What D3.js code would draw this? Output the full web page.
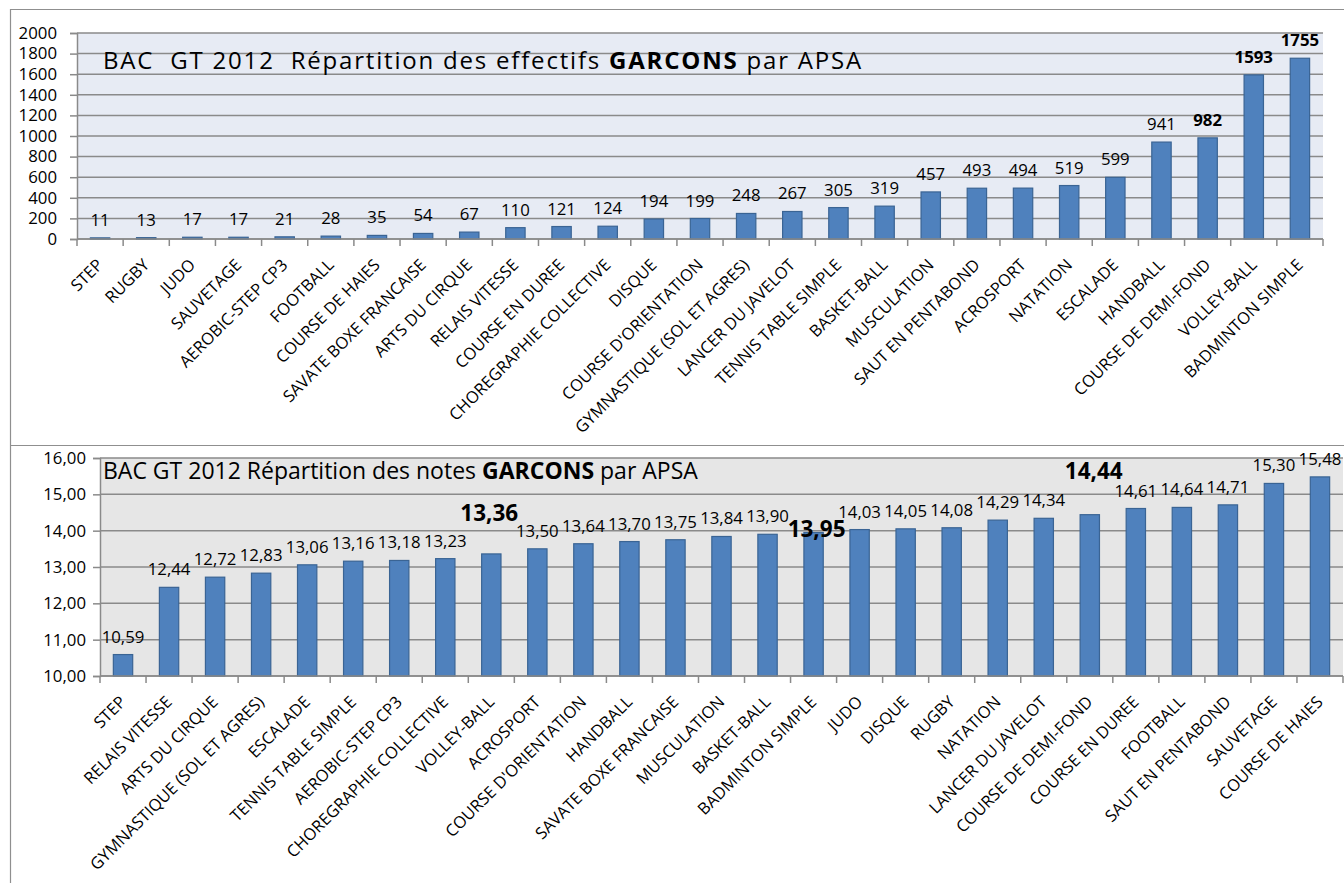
<!DOCTYPE html>
<html>
<head>
<meta charset="utf-8">
<script src="https://cdn.jsdelivr.net/npm/d3@7"></script>
<style>
  html, body { margin: 0; padding: 0; background: #fff; }
  svg { display: block; font-family: "Open Sans", sans-serif; }
  .title { white-space: pre; }
</style>
</head>
<body>
<svg id="chart"></svg>
<script>
// effectifs garcons par APSA
const apsaEffectifs = ["STEP", "RUGBY", "JUDO", "SAUVETAGE", "AEROBIC-STEP CP3", "FOOTBALL",
  "COURSE DE HAIES", "SAVATE BOXE FRANCAISE", "ARTS DU CIRQUE", "RELAIS VITESSE", "COURSE EN DUREE",
  "CHOREGRAPHIE COLLECTIVE", "DISQUE", "COURSE D'ORIENTATION", "GYMNASTIQUE (SOL ET AGRES)",
  "LANCER DU JAVELOT", "TENNIS TABLE SIMPLE", "BASKET-BALL", "MUSCULATION", "SAUT EN PENTABOND",
  "ACROSPORT", "NATATION", "ESCALADE", "HANDBALL", "COURSE DE DEMI-FOND", "VOLLEY-BALL",
  "BADMINTON SIMPLE"];
const effectifs = [11, 13, 17, 17, 21, 28, 35, 54, 67, 110, 121, 124, 194, 199, 248, 267, 305, 319,
  457, 493, 494, 519, 599, 941, 982, 1593, 1755];
const effectifsTicks = [0, 200, 400, 600, 800, 1000, 1200, 1400, 1600, 1800, 2000];

// notes moyennes garcons par APSA
const apsaNotes = ["STEP", "RELAIS VITESSE", "ARTS DU CIRQUE", "GYMNASTIQUE (SOL ET AGRES)", "ESCALADE",
  "TENNIS TABLE SIMPLE", "AEROBIC-STEP CP3", "CHOREGRAPHIE COLLECTIVE", "VOLLEY-BALL", "ACROSPORT",
  "COURSE D'ORIENTATION", "HANDBALL", "SAVATE BOXE FRANCAISE", "MUSCULATION", "BASKET-BALL",
  "BADMINTON SIMPLE", "JUDO", "DISQUE", "RUGBY", "NATATION", "LANCER DU JAVELOT",
  "COURSE DE DEMI-FOND", "COURSE EN DUREE", "FOOTBALL", "SAUT EN PENTABOND", "SAUVETAGE",
  "COURSE DE HAIES"];
const notes = [10.59, 12.44, 12.72, 12.83, 13.06, 13.16, 13.18, 13.23, 13.36, 13.50, 13.64, 13.70,
  13.75, 13.84, 13.90, 13.95, 14.03, 14.05, 14.08, 14.29, 14.34, 14.44, 14.61, 14.64, 14.71, 15.30,
  15.48];
const notesTicks = [10, 11, 12, 13, 14, 15, 16];

// APSA mises en avant (labels en gras)
const highlighted = ["COURSE DE DEMI-FOND", "VOLLEY-BALL", "BADMINTON SIMPLE"];

const width = 1344, height = 883;
const frFormat = d3.formatLocale({decimal: ",", thousands: " ", grouping: [3], currency: ["", " €"]});

const svg = d3.select("#chart")
  .attr("width", width)
  .attr("height", height);

// cadres
svg.append("path")
  .attr("d", `M10.5,${height} V9.5 H${width} M10.5,445.5 H${width}`)
  .attr("fill", "none")
  .attr("stroke", "#8f8f8f")
  .attr("stroke-width", 1.2);

function barPanel(cfg) {
  const g = svg.append("g");
  const p = cfg.plot;

  const x = d3.scaleBand().domain(cfg.cats).range([p.x0, p.x1]);
  const y = d3.scaleLinear().domain(cfg.domain).range([p.y1, p.y0]);
  const bw = x.bandwidth() * 0.42;

  g.append("rect")
    .attr("x", p.x0).attr("y", p.y0)
    .attr("width", p.x1 - p.x0).attr("height", p.y1 - p.y0)
    .attr("fill", cfg.bg);

  // grille + axe vertical
  const yAxis = g.append("g")
    .attr("transform", `translate(${p.x0},0)`)
    .call(d3.axisLeft(y).tickValues(cfg.ticks).tickSize(7).tickPadding(cfg.tickPad).tickFormat(cfg.tickFormat));
  yAxis.select(".domain").attr("stroke", "#8a8a8a").attr("stroke-width", 1.5);
  yAxis.selectAll(".tick line").attr("stroke", "#8a8a8a").attr("stroke-width", 1.5);
  yAxis.selectAll(".tick text")
    .attr("fill", "#000").style("font-size", "16.8px").style("font-family", "'Open Sans'");

  g.append("g")
    .selectAll("line")
    .data(cfg.ticks)
    .join("line")
    .attr("x1", p.x0).attr("x2", p.x1)
    .attr("y1", d => y(d)).attr("y2", d => y(d))
    .attr("stroke", "#8a8a8a")
    .attr("stroke-width", 1.5);

  // titre
  const title = g.append("text")
    .attr("class", "title")
    .attr("x", cfg.titlePos[0]).attr("y", cfg.titlePos[1])
    .style("font-size", cfg.titleSize + "px")
    .style("letter-spacing", cfg.titleSpacing + "px");
  title.append("tspan").text(cfg.title[0]);
  title.append("tspan").attr("font-weight", "bold").text(cfg.title[1]);
  title.append("tspan").text(cfg.title[2]);

  // barres
  g.append("g")
    .selectAll("rect")
    .data(cfg.cats)
    .join("rect")
    .attr("x", d => x(d) + (x.bandwidth() - bw) / 2)
    .attr("y", (d, i) => y(cfg.vals[i]))
    .attr("width", bw)
    .attr("height", (d, i) => p.y1 - y(cfg.vals[i]))
    .attr("fill", "#4f81bd")
    .attr("stroke", "#3a6494")
    .attr("stroke-width", 1.2);

  // axe horizontal avec graduations entre categories
  const xAxis = g.append("g")
    .attr("transform", `translate(0,${p.y1})`);
  xAxis.append("line")
    .attr("x1", p.x0).attr("x2", p.x1)
    .attr("stroke", "#8a8a8a").attr("stroke-width", 1.5);
  xAxis.selectAll(".tk")
    .data(cfg.cats.concat([null]))
    .join("line")
    .attr("class", "tk")
    .attr("x1", (d, i) => p.x0 + i * x.step()).attr("x2", (d, i) => p.x0 + i * x.step())
    .attr("y1", 0).attr("y2", 7)
    .attr("stroke", "#8a8a8a").attr("stroke-width", 1.5);

  g.append("g")
    .selectAll("text")
    .data(cfg.cats)
    .join("text")
    .attr("transform", d => `translate(${x(d) + x.bandwidth() / 2 + 4},${p.y1 + 27}) rotate(-45)`)
    .attr("text-anchor", "end")
    .style("font-size", "16.5px")
    .text(d => d);

  // valeurs
  g.append("g")
    .selectAll("text")
    .data(cfg.cats)
    .join("text")
    .attr("x", d => x(d) + x.bandwidth() / 2 + (cfg.shift[d] ? cfg.shift[d][0] : 0))
    .attr("y", (d, i) => y(cfg.vals[i]) - 12 + (cfg.shift[d] ? cfg.shift[d][1] : 0))
    .attr("text-anchor", "middle")
    .attr("font-weight", d => highlighted.includes(d) ? "bold" : null)
    .style("font-size", d => (highlighted.includes(d) ? cfg.boldSize : 16.8) + "px")
    .text((d, i) => cfg.valFormat(cfg.vals[i]));
}

barPanel({
  cats: apsaEffectifs,
  vals: effectifs,
  domain: [0, 2000],
  ticks: effectifsTicks,
  tickFormat: d3.format("d"),
  tickPad: 13,
  plot: {x0: 77, x1: 1323, y0: 33, y1: 239},
  bg: "#e7ebf4",
  title: ["BAC  GT 2012  Répartition des effectifs ", "GARCONS", " par APSA"],
  titlePos: [103, 69],
  titleSize: 24,
  titleSpacing: 1.8,
  valFormat: d3.format("d"),
  boldSize: 16.8,
  shift: {}
});

barPanel({
  cats: apsaNotes,
  vals: notes,
  domain: [10, 16],
  ticks: notesTicks,
  tickFormat: frFormat.format(".2f"),
  tickPad: 7,
  plot: {x0: 100, x1: 1343, y0: 458, y1: 676},
  bg: "#e6e6e6",
  title: ["BAC GT 2012 Répartition des notes ", "GARCONS", " par APSA"],
  titlePos: [103, 479],
  titleSize: 23,
  titleSpacing: 0,
  valFormat: frFormat.format(".2f"),
  boldSize: 22.5,
  shift: {"VOLLEY-BALL": [-2, -21], "BADMINTON SIMPLE": [3, 17], "COURSE DE DEMI-FOND": [4, -24]}
});
</script>
</body>
</html>
